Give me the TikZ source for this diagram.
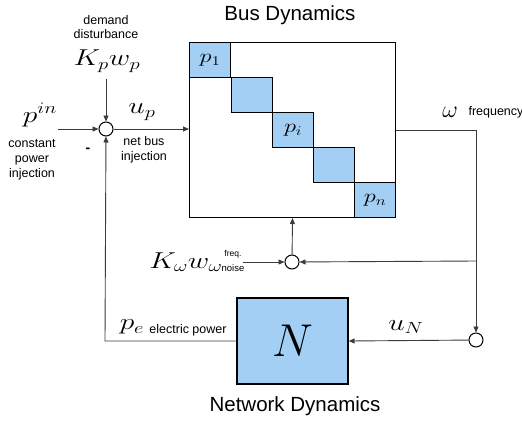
\RequirePackage{fix-cm}
\documentclass[tikz,border=0pt]{standalone}
\usepackage{graphicx}
\usepackage{fontspec}
\setsansfont{Liberation Sans}
\usetikzlibrary{arrows.meta}
\definecolor{blk}{RGB}{163,207,245}
\definecolor{ln}{RGB}{60,60,60}
\newcommand{\wm}[1]{\scalebox{1.28}[1]{$#1$}}
\tikzset{
  sumnode/.style={circle,draw,line width=1pt,minimum size=14pt,inner sep=0pt,fill=white},
  blockbox/.style={draw,line width=1.3pt,fill=blk,minimum width=41pt,minimum height=35pt,inner sep=0pt,anchor=north west,font=\fontsize{19}{21}\selectfont},
  conn/.style={draw=ln,line width=0.9pt},
  arr/.style={conn,-{Triangle[length=6pt,width=5pt]}},
  lbl/.style={font=\sffamily\fontsize{12.5}{15}\selectfont,inner sep=0pt,align=center},
  small/.style={font=\sffamily\fontsize{8.5}{10}\selectfont,inner sep=0pt},
  ttl/.style={font=\sffamily\fontsize{20.5}{24}\selectfont,inner sep=0pt},
  mth/.style={font=\fontsize{23}{25}\selectfont,inner sep=0pt}
}
\begin{document}
\begin{tikzpicture}[x=1pt,y=-1pt]
\useasboundingbox (0,0) rectangle (522,424);
% bus box
\node[draw,line width=1pt,minimum width=206pt,minimum height=175pt,inner sep=0pt,anchor=north west] (bus) at (189,42) {};
\node[blockbox] (b1) at (189,42) {\wm{p_1}};
\node[blockbox] (b2) at (231,77) {};
\node[blockbox] (b3) at (272,112) {\wm{p_i}};
\node[blockbox] (b4) at (313,147) {};
\node[blockbox] (b5) at (354,182) {\wm{p_n}};
\node[ttl] (bt) at (290,15) {Bus Dynamics};
% network box
\node[draw,line width=1.3pt,fill=blk,minimum width=111pt,minimum height=86pt,inner sep=0pt] (N) at (292.5,341) {\fontsize{46}{50}\selectfont$N$};
\node[ttl] (nt) at (295,406) {Network Dynamics};
% sum nodes
\node[sumnode] (s1) at (106,129) {};
\node[sumnode] (s2) at (292,262) {};
\node[sumnode] (s3) at (476,340) {};
% free ends
\coordinate (pin) at (58,129);
\coordinate (kp) at (106,79);
\coordinate (kw) at (243,262);
\coordinate (corner) at (476,130);
\coordinate (branch) at (476,261);
\coordinate (lc) at (105,341);
% connectors
\draw[arr] (pin) -- (s1);
\draw[arr] (kp) -- (s1);
\draw[arr] (s1) -- (s1 -| bus.west);
\draw[conn] (bus.east) -- (corner);
\draw[arr] (corner) -- (s3);
\draw[arr] (branch) -- (s2);
\draw[arr] (kw) -- (s2);
\draw[arr] (s2) -- (bus.south);
\draw[arr] (s3) -- (N.east);
\draw[arr] (N.west) -- (lc) -- (s1);
% labels
\node[lbl] (l1) at (106,20) {demand};
\node[lbl] (l2) at (106,34) {disturbance};
\node[mth] (m1) at (107,61) {\wm{K_pw_p}};
\node[mth] (m2) at (40,115) {\wm{p^{in}}};
\node[lbl] (l3) at (32,160) {constant\\power\\injection};
\node[font=\sffamily\bfseries\fontsize{14}{14}\selectfont,inner sep=0pt] (minus) at (88,150) {-};
\node[mth] (m3) at (142,112) {\wm{u_p}};
\node[lbl] (l4) at (144,150) {net bus\\injection};
\node[mth,font=\fontsize{24}{26}\selectfont] (m4) at (450,112) {$\omega$};
\node[lbl] (l5) at (496,112) {frequency};
\node[mth] (m5) at (186,262) {\wm{K_\omega w_\omega}};
\node[small] (l6) at (233,254) {freq.};
\node[small,font=\sffamily\fontsize{9.5}{10}\selectfont] (l7) at (233,268) {noise};
\node[mth] (m6) at (132,327) {\wm{p_e}};
\node[lbl] (l8) at (188,330) {electric power};
\node[mth] (m7) at (406,327) {\wm{u_N}};
\end{tikzpicture}
\end{document}
